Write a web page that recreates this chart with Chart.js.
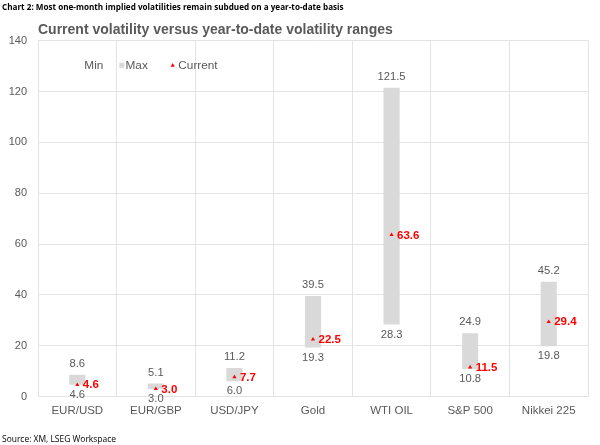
<!DOCTYPE html>
<html>
<head>
<meta charset="utf-8">
<script src="https://cdn.jsdelivr.net/npm/chart.js@4.4.1/dist/chart.umd.min.js"></script>
<style>
html,body{margin:0;padding:0;background:#fff;}
#wrap{position:relative;width:600px;height:445px;overflow:hidden;}
#chart{position:absolute;left:0;top:0;}
.note{position:absolute;left:2px;white-space:nowrap;color:#000;font-family:"Open Sans","Noto Sans",sans-serif;line-height:1;}
#cap{top:2px;font-weight:bold;font-size:9px;}
#src{top:434px;font-size:9px;}
</style>
</head>
<body>
<div id="wrap">
<canvas id="chart" width="600" height="445"></canvas>
<div id="cap" class="note">Chart 2: Most one-month implied volatilities remain subdued on a year-to-date basis</div>
<div id="src" class="note">Source: XM, LSEG Workspace</div>
</div>
<script>
const categories = ['EUR/USD', 'EUR/GBP', 'USD/JPY', 'Gold', 'WTI OIL', 'S&P 500', 'Nikkei 225'];
const minValues = [4.6, 3.0, 6.0, 19.3, 28.3, 10.8, 19.8];
const maxValues = [8.6, 5.1, 11.2, 39.5, 121.5, 24.9, 45.2];
const currentValues = [4.6, 3.0, 7.7, 22.5, 63.6, 11.5, 29.4];
const legendLabels = ['Min', 'Max', 'Current'];

// fit the notes to their measured widths in the reference
function fitText(id, target) {
  const el = document.getElementById(id);
  let fs = parseFloat(getComputedStyle(el).fontSize);
  for (let k = 0; k < 3; k++) {
    const w = el.getBoundingClientRect().width;
    fs = fs * target / w;
    el.style.fontSize = fs + 'px';
  }
}
fitText('cap', 342);
fitText('src', 114);
(function(){
  const cap = document.getElementById('cap');
  const h = cap.getBoundingClientRect().height;
  cap.style.top = (7.3 - h / 2) + 'px';
  const src = document.getElementById('src');
  const h2 = src.getBoundingClientRect().height;
  src.style.top = (439 - h2 / 2) + 'px';
})();

const FONT = '"Liberation Sans", Arial, sans-serif';
const GREY = '#595959';
const BAR = '#d9d9d9';
const RED = '#ff0000';
const GRID = '#e3e3e3';

const labelPlugin = {
  id: 'valueLabels',
  afterDatasetsDraw(chart) {
    const ctx = chart.ctx;
    ctx.save();
    const bm = chart.getDatasetMeta(0);
    ctx.font = '11.2px ' + FONT;
    ctx.fillStyle = GREY;
    ctx.textAlign = 'center';
    ctx.textBaseline = 'middle';
    bm.data.forEach((el, i) => {
      const p = el.getProps(['x', 'y', 'base'], true);
      const top = Math.min(p.y, p.base), bot = Math.max(p.y, p.base);
      ctx.fillText(maxValues[i].toFixed(1), p.x, top - 11);
      ctx.fillText(minValues[i].toFixed(1), p.x, bot + 10);
    });
    const lm = chart.getDatasetMeta(1);
    ctx.font = 'bold 11.5px ' + FONT;
    ctx.fillStyle = RED;
    ctx.textAlign = 'left';
    lm.data.forEach((el, i) => {
      const p = el.getProps(['x', 'y'], true);
      ctx.fillText(currentValues[i].toFixed(1), p.x + 5.5, p.y + 0.5);
    });
    ctx.restore();
  },
  afterDraw(chart) {
    const ctx = chart.ctx;
    const a = chart.chartArea;
    const y = 65.3;
    ctx.save();
    ctx.font = '11.8px ' + FONT;
    ctx.fillStyle = GREY;
    ctx.textAlign = 'left';
    ctx.textBaseline = 'middle';
    ctx.fillText(legendLabels[0], a.left + 46.3, y);
    ctx.fillStyle = BAR;
    ctx.fillRect(a.left + 81.3, y - 2.5, 5, 5);
    ctx.fillStyle = GREY;
    ctx.fillText(legendLabels[1], a.left + 87.5, y);
    ctx.fillStyle = RED;
    const tx = a.left + 134.7, r = 2.3;
    ctx.beginPath();
    ctx.moveTo(tx, y - r);
    ctx.lineTo(tx + r * 0.9, y + r * 0.6);
    ctx.lineTo(tx - r * 0.9, y + r * 0.6);
    ctx.closePath();
    ctx.fill();
    ctx.fillStyle = GREY;
    ctx.fillText(legendLabels[2], a.left + 140.3, y);
    ctx.restore();
  }
};

new Chart(document.getElementById('chart'), {
  type: 'bar',
  data: {
    labels: categories,
    datasets: [
      {
        type: 'bar',
        label: 'Max',
        data: categories.map((c, i) => [minValues[i], maxValues[i]]),
        backgroundColor: BAR,
        borderWidth: 0,
        barPercentage: 0.205,
        categoryPercentage: 1,
        order: 2
      },
      {
        type: 'line',
        label: 'Current',
        data: currentValues,
        showLine: false,
        pointStyle: 'triangle',
        pointRadius: 2.4,
        pointBackgroundColor: RED,
        pointBorderColor: RED,
        pointBorderWidth: 0,
        order: 1
      }
    ]
  },
  options: {
    responsive: false,
    animation: false,
    devicePixelRatio: 1,
    layout: { padding: { left: 0, right: 12, top: 0, bottom: 0 } },
    plugins: {
      legend: { display: false },
      tooltip: { enabled: false },
      title: {
        display: true,
        fullSize: false,
        text: 'Current volatility versus year-to-date volatility ranges',
        align: 'start',
        color: GREY,
        font: { family: FONT, size: 14, weight: 'bold' },
        padding: { top: 21.3, bottom: 2.6 }
      }
    },
    scales: {
      x: {
        grid: { color: GRID, offset: true, drawTicks: false },
        border: { color: GRID },
        ticks: { color: GREY, font: { family: FONT, size: 11.5 }, padding: 7, maxRotation: 0, autoSkip: false },
        afterFit(s) { s.height = 48.5; }
      },
      y: {
        min: 0,
        max: 140,
        grid: { color: GRID, drawTicks: false },
        border: { color: GRID },
        ticks: { stepSize: 20, color: GREY, font: { family: FONT, size: 11 }, padding: 11 },
        afterFit(s) { s.width = 38; }
      }
    }
  },
  plugins: [labelPlugin]
});
</script>
</body>
</html>
